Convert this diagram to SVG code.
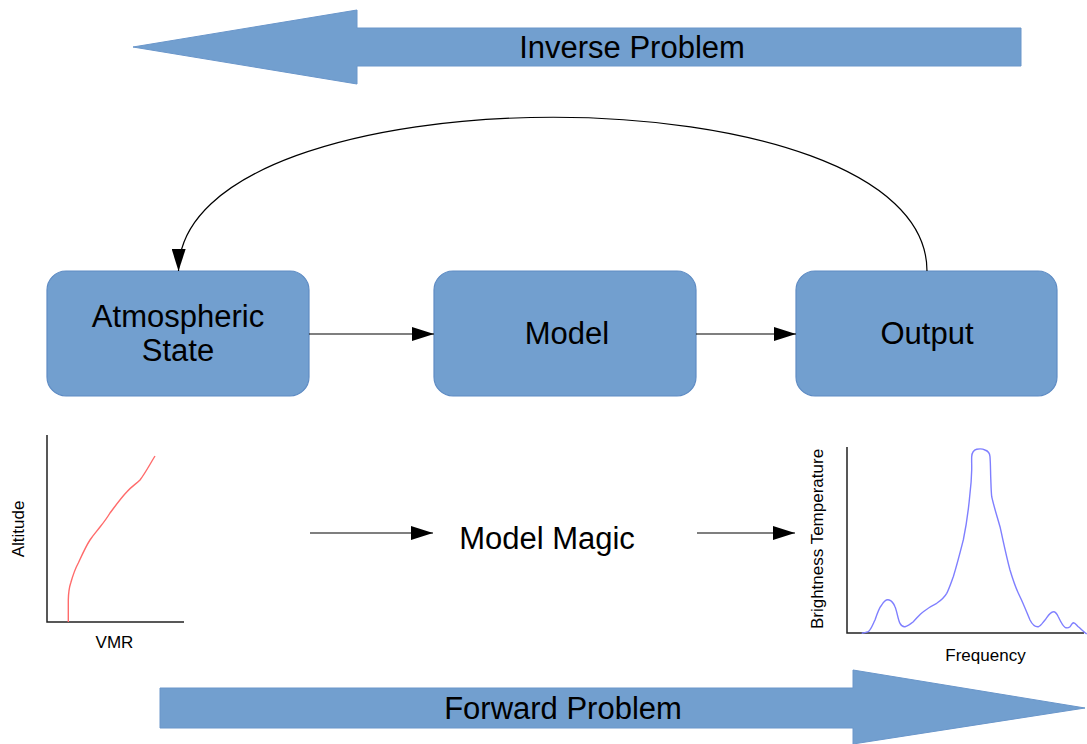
<svg xmlns="http://www.w3.org/2000/svg" width="1087" height="744" viewBox="0 0 1087 744">
<style>
  .big { fill: #729fcf; stroke: #6a96ca; stroke-width: 1; }
  .box { fill: #729fcf; stroke: #5f8cc4; stroke-width: 1.2; }
  .lbl { font-family: "Liberation Sans", Arial, sans-serif; font-size: 31px; fill: #000; text-anchor: middle; }
  .sm { font-family: "Liberation Sans", Arial, sans-serif; font-size: 17px; fill: #000; text-anchor: middle; }
  .conn { fill: none; stroke: #000; stroke-width: 1.2; }
  .axis { fill: none; stroke: #222; stroke-width: 1.5; }
</style>
<defs>
  <marker id="ah" markerWidth="22" markerHeight="14" refX="22" refY="7" orient="auto" markerUnits="userSpaceOnUse">
    <path d="M0,0 L22,7 L0,14 Z" fill="#000"/>
  </marker>
</defs>
<rect width="1087" height="744" fill="#fff"/>

<g id="inverse-problem">
  <path class="big" d="M133,47 L357,10 L357,28 L1021,28 L1021,66 L357,66 L357,84 Z"/>
  <text class="lbl" x="632" y="58">Inverse Problem</text>
</g>

<g id="forward-problem">
  <path class="big" d="M160,688 L853,688 L853,670 L1085,708 L853,744 L853,728 L160,728 Z"/>
  <text class="lbl" x="563" y="719">Forward Problem</text>
</g>

<g id="atmospheric-state">
  <rect class="box" x="47" y="271" width="262" height="125" rx="19" ry="19"/>
  <text class="lbl" x="178" y="327">Atmospheric</text>
  <text class="lbl" x="178" y="361">State</text>
</g>

<g id="model">
  <rect class="box" x="434" y="271" width="262" height="125" rx="19" ry="19"/>
  <text class="lbl" x="567" y="344">Model</text>
</g>

<g id="output">
  <rect class="box" x="796" y="271" width="261" height="125" rx="19" ry="19"/>
  <text class="lbl" x="927" y="344">Output</text>
</g>

<g id="model-magic">
  <text class="lbl" x="547" y="549">Model Magic</text>
</g>

<g id="vmr-plot">
  <path class="axis" d="M47,435 L47,622 L184,622"/>
  <path fill="none" stroke="#ff6b6b" stroke-width="1.4" d="M68.3,622 L68.3,600 C68.5,592 69,588 70.7,583 C73,575 75,569 78.3,563 C82,555 86,546 90,540 C94,534 97,531 100,527 C104,522 107,518 110,513 C116,505 121,498 126.7,492 C131,487 136,484 140,480 C146,472 150,464 155,456"/>
  <text class="sm" x="114.5" y="648">VMR</text>
  <text class="sm" transform="translate(24,529) rotate(-90)">Altitude</text>
</g>

<g id="tb-plot">
  <path class="axis" d="M847,447 L847,633 L1084,633"/>
  <path fill="none" stroke="#7f7fff" stroke-width="1.4" d="M861.7,633.3 C864,633 866,632.5 868.3,631.7 C871,630 873,624 875,620 C877,614 879,608 881.7,605 C884,601 887,599 889.3,600 C892,601 893.5,603 895,606.7 C897,611 898,620 900,623.3 C901.5,626 903,627 905,626.7 C908,626 910.5,624 913.3,621.7 C917,618 920,614 923.3,611.7 C928,608 932,605.5 936.7,603.3 C940,601 944,598 946.7,593.3 C949,589 951,583 953.3,576.7 C957,565 960,553 963.3,540 C966,527 968.5,510 970,493.3 C971,485 971.5,478 971.7,470 C971.8,465 971.5,460 971.7,456.7 C972,452 974,450 976.7,449.3 C979,448.8 983,449 985,450 C988,451 989.8,453 990,456.7 C990.5,463 990.5,470 990.7,476.7 C991,483 991,490 991.7,496.7 C994,507 997,516 1000,526.7 C1003,540 1006,555 1010,570 C1013,580 1016,589 1020,596.7 C1024,605 1027,613 1030,620 C1032,624 1035,627 1038.3,626.7 C1041,626 1043,622 1045,620 C1048,616 1050,612 1053.3,611.7 C1055,611.5 1057,614 1058.3,616.7 C1060,620 1062,625 1065,627.3 C1067,628.5 1069,627.5 1070,626.7 C1071.5,625 1072,623 1073.3,622.7 C1075,622.5 1076.5,625 1078.3,626.7 C1081,629 1084,632 1086.7,634"/>
  <text class="sm" x="985.5" y="661">Frequency</text>
  <text class="sm" transform="translate(823,539) rotate(-90)">Brightness Temperature</text>
</g>

<g id="connectors">
  <path class="conn" d="M309,334 L434,334" marker-end="url(#ah)"/>
  <path class="conn" d="M696,334 L796,334" marker-end="url(#ah)"/>
  <path class="conn" d="M927,271 C927,66 180,66 178.5,271" marker-end="url(#ah)"/>
  <path class="conn" d="M310,533 L433,533" marker-end="url(#ah)"/>
  <path class="conn" d="M697,533 L795,533" marker-end="url(#ah)"/>
</g>
</svg>
